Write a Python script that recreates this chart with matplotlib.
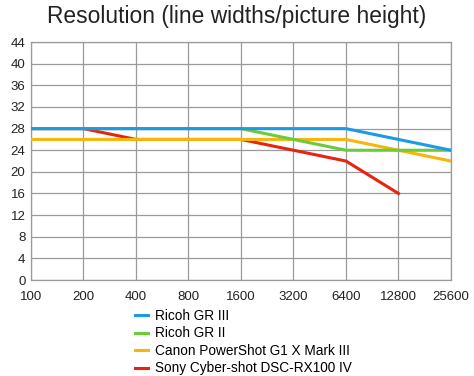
import numpy as np
import matplotlib.pyplot as plt

plt.rcParams['font.family'] = ['Liberation Sans', 'DejaVu Sans']

# Daten
iso = [100, 200, 400, 800, 1600, 3200, 6400, 12800, 25600]
ricoh_gr3 = [28, 28, 28, 28, 28, 28, 28, 26, 24]
ricoh_gr2 = [28, 28, 28, 28, 28, 26, 24, 24, 24]
canon_g1x3 = [26, 26, 26, 26, 26, 26, 26, 24, 22]
sony_rx100_4 = [28, 28, 26, 26, 26, 24, 22, 16]

fig = plt.figure(figsize=(4.74, 3.76), dpi=100)
ax = fig.add_axes([0.0654, 0.2553, 0.886, 0.6327])

x = np.log2(np.array(iso) / 100)

# Reihenfolge: rot unten, blau oben
l_sony, = ax.plot(x[:len(sony_rx100_4)], sony_rx100_4, color='#e8230f', lw=2.2, zorder=3)
l_canon, = ax.plot(x, canon_g1x3, color='#f6b60a', lw=2.2, zorder=4)
l_gr2, = ax.plot(x, ricoh_gr2, color='#6ccb3a', lw=2.2, zorder=5)
l_gr3, = ax.plot(x, ricoh_gr3, color='#1c9ae6', lw=2.2, zorder=6)

ax.set_xlim(x[0], x[-1])
ax.set_ylim(0, 44)
ax.set_xticks(x)
ax.set_xticklabels([str(v) for v in iso])
ax.set_yticks(range(0, 45, 4))
ax.tick_params(length=0, labelsize=9.5, colors='#222222', pad=4)
ax.tick_params(axis='x', pad=8)
ax.grid(True, color='#9a9a9a', lw=0.9)
for s in ax.spines.values():
    s.set_color('#9a9a9a')
    s.set_linewidth(0.9)

fig.text(0.5, 0.955, 'Resolution (line widths/picture height)', ha='center', va='center',
         fontsize=16.4, color='#222222')

fig.legend([l_gr3, l_gr2, l_canon, l_sony],
           ['Ricoh GR III', 'Ricoh GR II', 'Canon PowerShot G1 X Mark III', 'Sony Cyber-shot DSC-RX100 IV'],
           loc='upper left', bbox_to_anchor=(0.284, 0.178), frameon=False, fontsize=9.8,
           handlelength=1.0, handletextpad=0.5, labelspacing=0.25, borderpad=0, borderaxespad=0)

fig.savefig('out.png', dpi=100)
